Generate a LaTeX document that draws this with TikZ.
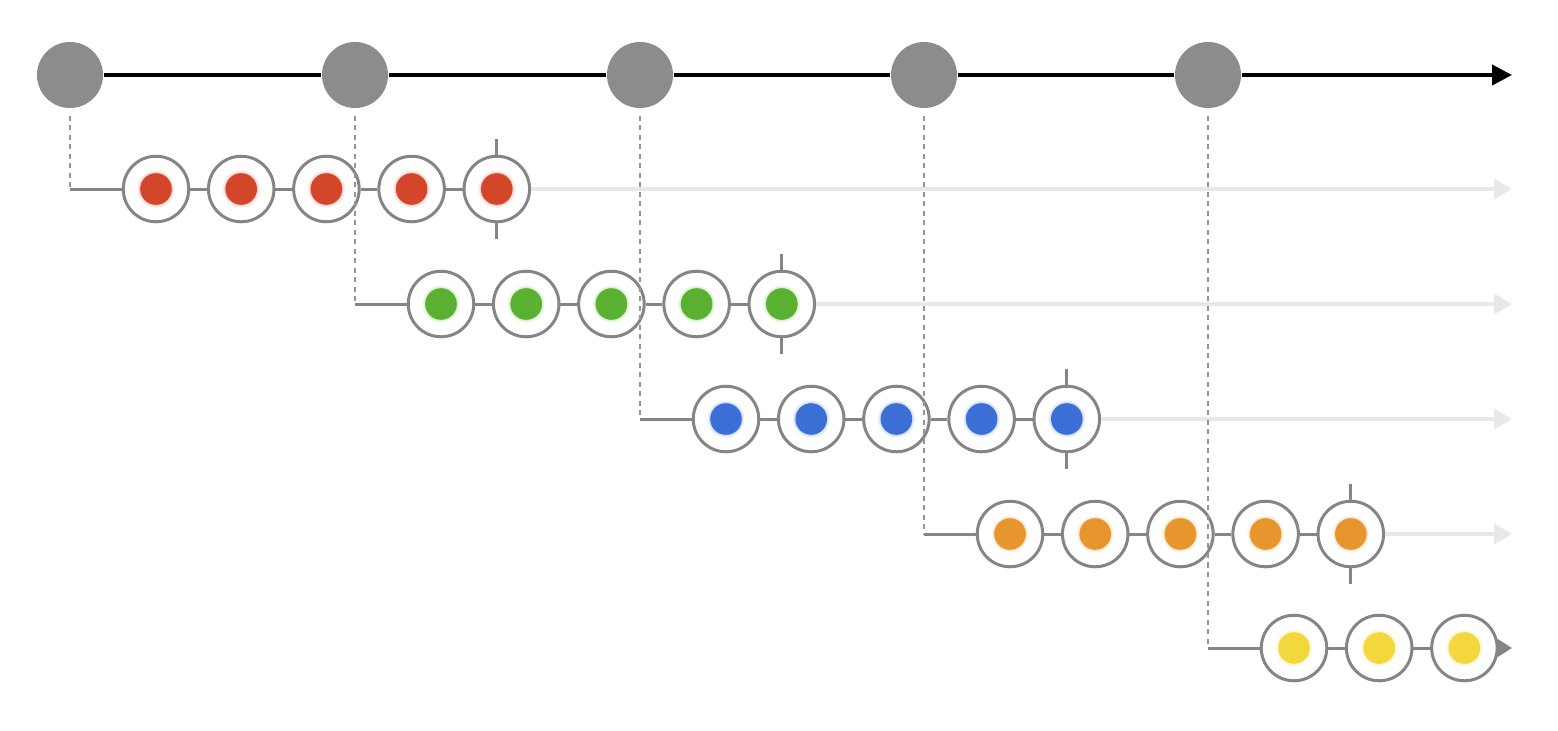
\documentclass[tikz,border=0pt]{standalone}
\usetikzlibrary{arrows.meta}
\definecolor{cbig}{HTML}{8C8C8C}
\definecolor{cring}{HTML}{858585}
\definecolor{cdash}{HTML}{959595}
\definecolor{cfaint}{HTML}{E8E8E8}
\definecolor{cred}{HTML}{D4462A}
\definecolor{cgreen}{HTML}{5AB030}
\definecolor{cblue}{HTML}{3B6FD6}
\definecolor{corange}{HTML}{E6962C}
\definecolor{cyellow}{HTML}{F2D83C}
\tikzset{
  bigdot/.style={circle,fill=cbig,draw=none,minimum size=0.66cm,inner sep=0pt},
  ring/.style={circle,fill=white,draw=cring,line width=0.03cm,minimum size=0.655cm,inner sep=0pt},
  mainline/.style={line width=0.04cm,black},
  link/.style={line width=0.03cm,cring},
  dashline/.style={line width=0.022cm,cdash,dash pattern=on 0.05cm off 0.045cm},
  faint/.style={line width=0.04cm,cfaint,-{Triangle[length=0.18cm,width=0.2cm]}}
}
\begin{document}
\begin{tikzpicture}[x=0.01cm,y=-0.01cm]
\useasboundingbox (0,0) rectangle (1558,730);
% main timeline
\foreach \i/\x in {1/70,2/355,3/640,4/924,5/1208}
  \node[bigdot] (t\i) at (\x,75) {};
\coordinate (tend) at (1512,75);
\draw[mainline] (t1) -- (t2) -- (t3) -- (t4) -- (t5);
\draw[mainline,-{Triangle[length=0.2cm,width=0.2cm]}] (t5) -- (tend);
% rows
\foreach \i/\sx/\sy/\col/\n in {1/70/189/cred/5,2/355/304/cgreen/5,3/640/419/cblue/5,4/924/534/corange/5,5/1208/648/cyellow/3}{
  \coordinate (s\i) at (\sx,\sy);
  \coordinate (e\i) at (1512,\sy);
  \foreach \j in {1,...,\n}{
    \node[ring] (r\i-\j) at ({\sx+86+85.2*(\j-1)},\sy) {};
    \fill[\col!10] (r\i-\j.center) circle (0.185cm);
    \fill[\col!22] (r\i-\j.center) circle (0.17cm);
    \fill[\col] (r\i-\j.center) circle (0.158cm);
  }
  \draw[link] (s\i) -- (r\i-1);
}
\foreach \i in {1,...,4}{
  \draw[link] (r\i-1) -- (r\i-2);
  \draw[link] (r\i-2) -- (r\i-3);
  \draw[link] (r\i-3) -- (r\i-4);
  \draw[link] (r\i-4) -- (r\i-5);
  \draw[link] (r\i-5.north) -- ++(0,-16);
  \draw[link] (r\i-5.south) -- ++(0,16);
  \draw[faint] (r\i-5) -- (e\i);
}
\draw[link] (r5-1) -- (r5-2);
\draw[link] (r5-2) -- (r5-3);
\draw[link,-{Triangle[length=0.14cm,width=0.17cm]}] (r5-3) -- (e5);
% dashed drops
\foreach \i in {1,...,5}
  \draw[dashline] ([yshift=-0.07cm]t\i.south) -- (s\i);
\end{tikzpicture}
\end{document}
